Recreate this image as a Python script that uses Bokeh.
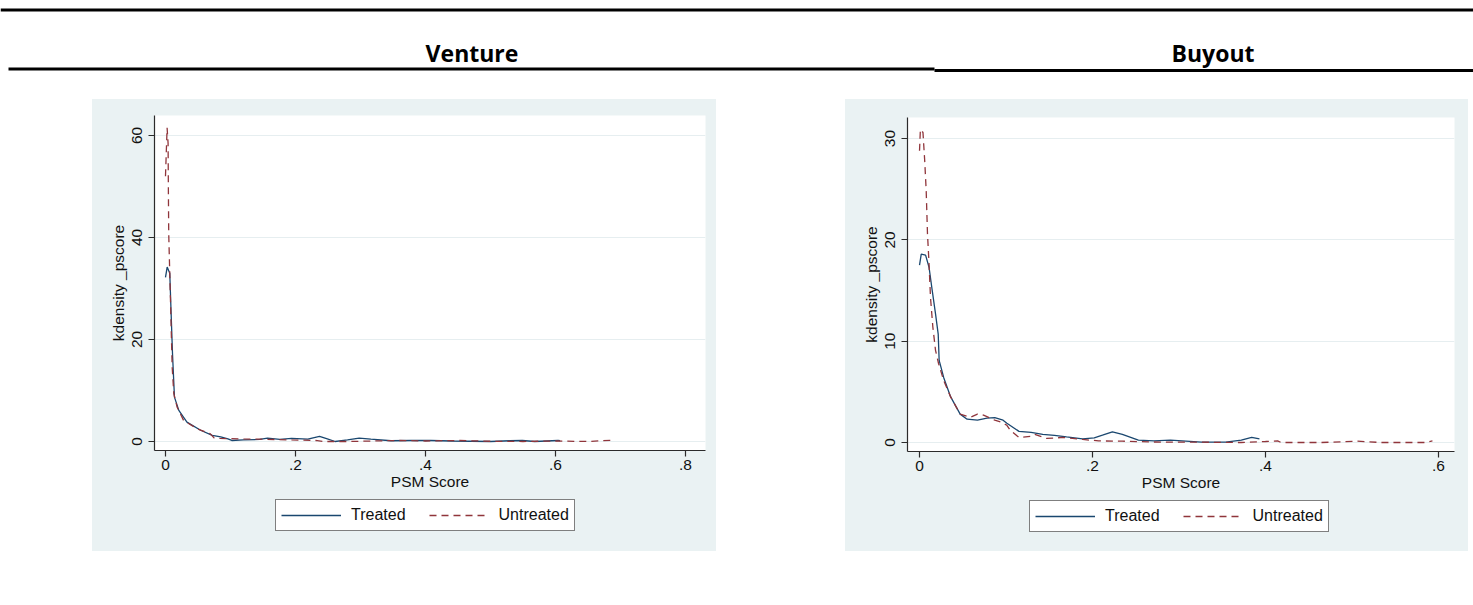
from bokeh.plotting import figure
from bokeh.models import (Range1d, FixedTicker, CustomJSTickFormatter, Legend, LegendItem, Spacer)
from bokeh.layouts import column, row
from bokeh.embed import file_html
from bokeh.resources import INLINE
from bokeh.core.properties import value

# ---------------- data ----------------
panel_titles = ["Venture", "Buyout"]
series_names = ["Treated", "Untreated"]
x_label = "PSM Score"
y_label = "kdensity _pscore"

venture_x_ticks = [0, 0.2, 0.4, 0.6, 0.8]
venture_y_ticks = [0, 20, 40, 60]
buyout_x_ticks = [0, 0.2, 0.4, 0.6]
buyout_y_ticks = [0, 10, 20, 30]

venture_treated_x = [0.000, 0.0026, 0.0066, 0.0087, 0.0108, 0.0138, 0.0205, 0.033, 0.054, 0.072,
                     0.085, 0.096, 0.102, 0.12, 0.145, 0.157, 0.176, 0.194, 0.219, 0.237,
                     0.249, 0.261, 0.28, 0.298, 0.316, 0.347, 0.378, 0.408, 0.439, 0.47,
                     0.5, 0.53, 0.549, 0.568, 0.604, 0.607]
venture_treated_y = [32.2, 34.2, 33.0, 25.0, 17.2, 8.7, 6.1, 3.8, 2.2, 1.2,
                     0.9, 0.5, 0.2, 0.3, 0.4, 0.65, 0.4, 0.6, 0.45, 1.0,
                     0.5, 0.0, 0.3, 0.65, 0.45, 0.15, 0.2, 0.2, 0.1, 0.05,
                     0.0, 0.15, 0.2, 0.0, 0.2, 0.15]

venture_untreated_x = [0.000, 0.0025, 0.004, 0.0045, 0.005, 0.0077, 0.0103, 0.0128, 0.018, 0.028,
                       0.049, 0.069, 0.075, 0.084, 0.12, 0.151, 0.194, 0.231, 0.243, 0.28,
                       0.3, 0.36, 0.4, 0.45, 0.5, 0.55, 0.6, 0.65, 0.687]
venture_untreated_y = [52.0, 61.5, 58.5, 48.6, 40.7, 27.6, 14.6, 9.4, 6.7, 4.1,
                       2.5, 1.5, 0.7, 0.6, 0.5, 0.45, 0.3, 0.2, 0.0, 0.0,
                       0.05, 0.2, 0.1, 0.2, 0.05, 0.0, 0.1, 0.0, 0.25]

buyout_treated_x = [0.000, 0.002, 0.007, 0.011, 0.0147, 0.0185, 0.0216, 0.0227, 0.028, 0.036,
                    0.047, 0.055, 0.067, 0.078, 0.087, 0.0966, 0.101, 0.115, 0.129, 0.1425,
                    0.156, 0.17, 0.1885, 0.202, 0.2115, 0.223, 0.2345, 0.253, 0.271, 0.29,
                    0.308, 0.326, 0.354, 0.372, 0.384, 0.393]
buyout_treated_y = [17.5, 18.6, 18.5, 17.3, 15.0, 12.7, 10.7, 8.1, 6.4, 4.5,
                    2.8, 2.3, 2.2, 2.4, 2.45, 2.2, 1.9, 1.1, 1.0, 0.8,
                    0.7, 0.55, 0.36, 0.46, 0.72, 1.05, 0.8, 0.23, 0.16, 0.23,
                    0.13, 0.03, 0.03, 0.23, 0.5, 0.36]

buyout_untreated_x = [0.000, 0.001, 0.004, 0.006, 0.0077, 0.0092, 0.0108, 0.0127, 0.0154, 0.0185,
                      0.022, 0.028, 0.036, 0.047, 0.059, 0.067, 0.074, 0.087, 0.095, 0.101,
                      0.105, 0.115, 0.128, 0.133, 0.147, 0.166, 0.1885, 0.207, 0.2345, 0.28,
                      0.326, 0.372, 0.4, 0.414, 0.418, 0.464, 0.506, 0.533, 0.584, 0.593]
buyout_untreated_y = [28.8, 30.9, 30.6, 27.8, 24.9, 20.6, 18.0, 14.3, 11.4, 9.1,
                      7.8, 6.1, 4.5, 2.8, 2.5, 2.8, 2.7, 2.2, 2.0, 1.7,
                      1.2, 0.5, 0.6, 0.8, 0.4, 0.5, 0.3, 0.16, 0.13, 0.03,
                      0.03, 0.0, 0.1, 0.16, 0.0, 0.0, 0.13, 0.0, 0.0, 0.16]

# ---------------- style ----------------
BLUE = "#1A476F"
RED = "#90353B"
PANEL_BG = "#EAF2F3"
GRID = "#E6EEF0"
AXIS = "#2b2b2b"
FONT = "Liberation Sans"
TITLE_FONT = "Open Sans"
LINE_W = 1.3
DASH = "7 5"


def make_chart(tx, ty, ux, uy, xticks, yticks, xr, yr, width, height, borders):
    left, right, top, bottom = borders
    p = figure(width=width, height=height, x_range=Range1d(*xr), y_range=Range1d(*yr),
               output_backend="svg", toolbar_location=None,
               min_border_left=left, min_border_right=right,
               min_border_top=top, min_border_bottom=bottom,
               background_fill_color="white", border_fill_color=PANEL_BG,
               outline_line_color=None)
    p.line(tx, ty, line_color=BLUE, line_width=LINE_W)
    p.line(ux, uy, line_color=RED, line_width=LINE_W, line_dash=DASH)

    p.xgrid.visible = False
    p.ygrid.grid_line_color = GRID
    p.ygrid.grid_line_width = 1.2

    fmt = CustomJSTickFormatter(code="""
        if (Math.abs(tick) < 1e-9) { return '0'; }
        var s = (Math.round(tick * 10) / 10).toString();
        if (Math.abs(tick) < 1) { s = s.replace('0.', '.'); }
        return s;
    """)
    for ax in (p.xaxis[0], p.yaxis[0]):
        ax.axis_line_color = AXIS
        ax.axis_line_width = 1.2
        ax.major_tick_line_color = AXIS
        ax.major_tick_line_width = 1.2
        ax.major_tick_out = 6
        ax.major_tick_in = 0
        ax.minor_tick_line_color = None
        ax.major_label_text_font = FONT
        ax.major_label_text_font_size = "15.5px"
        ax.major_label_text_color = "#111111"
        ax.axis_label_text_font = FONT
        ax.axis_label_text_font_size = "15.5px"
        ax.axis_label_text_font_style = "normal"
        ax.axis_label_text_color = "#111111"

    p.xaxis.ticker = FixedTicker(ticks=xticks)
    p.xaxis.formatter = fmt
    p.xaxis.axis_label = x_label
    p.xaxis.major_label_standoff = 3
    p.xaxis.axis_label_standoff = 0

    p.yaxis.ticker = FixedTicker(ticks=yticks)
    p.yaxis.major_label_orientation = "vertical"
    p.yaxis.axis_label = y_label
    p.yaxis.major_label_standoff = 6
    p.yaxis.axis_label_standoff = 3
    return p


def make_legend_strip(tx, ty, ux, uy, width, height, loc):
    # the series are drawn far outside the visible range: only the legend shows
    q = figure(width=width, height=height, x_range=Range1d(10, 11), y_range=Range1d(100, 101),
               output_backend="svg", toolbar_location=None, min_border=0,
               x_axis_type=None, y_axis_type=None, outline_line_color=None,
               background_fill_alpha=0, border_fill_color=PANEL_BG)
    q.xgrid.visible = False
    q.ygrid.visible = False
    r1 = q.line(tx, ty, line_color=BLUE, line_width=LINE_W)
    r2 = q.line(ux, uy, line_color=RED, line_width=LINE_W, line_dash=DASH)
    legend = Legend(items=[LegendItem(label=series_names[0], renderers=[r1]),
                           LegendItem(label=series_names[1], renderers=[r2])],
                    orientation="horizontal", location=loc)
    legend.border_line_color = "black"
    legend.border_line_width = 1.2
    legend.background_fill_color = "white"
    legend.background_fill_alpha = 1
    legend.label_text_font = FONT
    legend.label_text_font_size = "16px"
    legend.label_text_color = "#111111"
    legend.glyph_width = 60
    legend.glyph_height = 20
    legend.label_height = 20
    legend.label_standoff = 10
    legend.spacing = 23
    legend.padding = 5
    legend.margin = 0
    q.add_layout(legend, "center")
    return q


venture = make_chart(venture_treated_x, venture_treated_y, venture_untreated_x, venture_untreated_y,
                     venture_x_ticks, venture_y_ticks,
                     (-0.0169, 0.8308), (-1.765, 63.92), 624, 398, (62, 11, 16, 47))
buyout = make_chart(buyout_treated_x, buyout_treated_y, buyout_untreated_x, buyout_untreated_y,
                    buyout_x_ticks, buyout_y_ticks,
                    (-0.0139, 0.6185), (-0.888, 32.08), 623, 398, (62, 14, 18, 46))
venture_leg = make_legend_strip(venture_treated_x, venture_treated_y,
                                venture_untreated_x, venture_untreated_y, 624, 54, (121, 20))
buyout_leg = make_legend_strip(buyout_treated_x, buyout_treated_y,
                               buyout_untreated_x, buyout_untreated_y, 623, 54, (122, 19))

# ---------------- header (table-like title row) ----------------
header = figure(width=1473, height=99, x_range=Range1d(0, 1473), y_range=Range1d(99, 0),
                output_backend="svg", toolbar_location=None, min_border=0,
                x_axis_type=None, y_axis_type=None, outline_line_color=None,
                background_fill_color="white", border_fill_color="white")
header.xgrid.visible = False
header.ygrid.visible = False
rule_x0 = [0, 8, 934]
rule_x1 = [1473, 934, 1473]
rule_y = [9.5, 68.5, 70.0]
header.segment(x0=rule_x0, y0=rule_y, x1=rule_x1, y1=rule_y, line_color="black", line_width=3)
header.text(x=[471.5, 1212.5], y=[52, 52], text=panel_titles,
            text_font=value(TITLE_FONT), text_font_style="bold", text_font_size="23px",
            text_align="center", text_baseline="middle", text_color="black")

panel_style = {"background-color": PANEL_BG}
layout = column(header,
                row(Spacer(width=92, height=452),
                    column(venture, venture_leg, styles=panel_style),
                    Spacer(width=129, height=452),
                    column(buyout, buyout_leg, styles=panel_style),
                    Spacer(width=5, height=452)))

open("out.html", "w").write(file_html(layout, INLINE))
